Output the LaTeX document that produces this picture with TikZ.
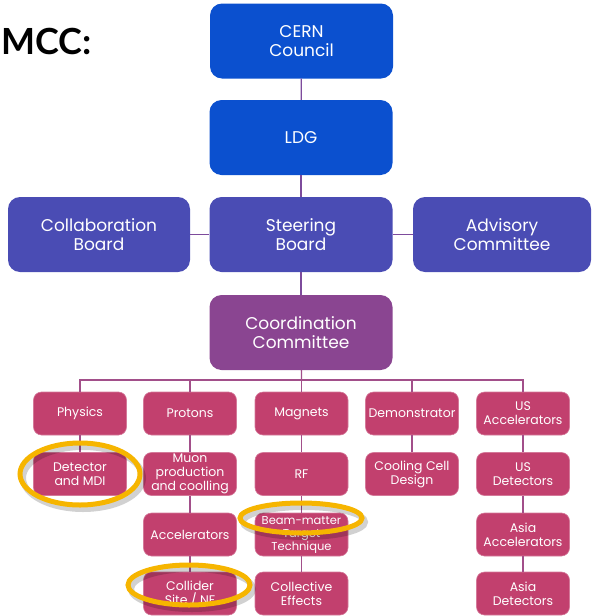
\documentclass[tikz,border=0pt]{standalone}
\usepackage{fontspec}
\setmainfont{Poppins}
\newfontfamily\titlefont{Lato}
\usetikzlibrary{positioning}
\definecolor{cernblue}{HTML}{0B50CF}
\definecolor{boardblue}{HTML}{4A4CB4}
\definecolor{coordpurple}{HTML}{8A4591}
\definecolor{groupred}{HTML}{C2406E}
\definecolor{ringgold}{HTML}{F6B500}
\definecolor{linepurple}{HTML}{7D4B9C}
\definecolor{linepink}{HTML}{A24F8A}

\begin{document}
\begin{tikzpicture}[x=1pt, y=-1pt,
    bigbox/.style={rectangle, rounded corners=12pt, minimum width=183pt, minimum height=75pt,
        inner sep=0pt, align=center, text=white, font=\fontsize{17}{19}\selectfont},
    groupbox/.style={rectangle, rounded corners=8pt, fill=groupred, draw=groupred!70!white, line width=0.6pt,
        minimum width=93pt, minimum height=43pt, inner sep=0pt, align=center, text=white,
        font=\fontsize{12.5}{14}\selectfont},
    link/.style={draw=linepurple, line width=1.3pt},
    buslink/.style={draw=linepink, line width=1.3pt},
    ring/.style={draw=ringgold, line width=5pt},
    ringshadow/.style={draw=black, opacity=0.18, line width=6pt}]
    \useasboundingbox (0,0) rectangle (592,616);

    \node[anchor=west, inner sep=0pt, font=\titlefont\bfseries\fontsize{36}{38}\selectfont] (title) at (1,41) {MCC:};

    % governance
    \node[bigbox, fill=cernblue] (cern) at (301.5,41) {CERN\\Council};
    \node[bigbox, fill=cernblue] (ldg) at (301,137.5) {LDG};
    \node[bigbox, fill=boardblue] (steering) at (301,234.5) {Steering\\Board};
    \node[bigbox, fill=boardblue, minimum width=182pt] (collab) at (99,234.5) {Collaboration\\Board};
    \node[bigbox, fill=boardblue, minimum width=178pt] (advisory) at (502,234.5) {Advisory\\Committee};
    \node[bigbox, fill=coordpurple] (coord) at (301,332.5) {Coordination\\Committee};

    \path[link]
    (cern) edge (ldg)
    (ldg) edge (steering)
    (collab) edge (steering)
    (steering) edge (advisory)
    (steering) edge (coord)
    ;

    % working groups
    \node[groupbox] (physics) at (80,413.5) {Physics};
    \node[groupbox] (protons) at (190,413.5) {Protons};
    \node[groupbox] (magnets) at (301.5,413.5) {Magnets};
    \node[groupbox] (demo) at (412,413.5) {Demonstrator};
    \node[groupbox] (usacc) at (523,413.5) {US\\Accelerators};

    \node[groupbox] (detector) at (80,474) {Detector\\and MDI};
    \node[groupbox] (muon) at (190,474) {Muon\\production\\and coolling};
    \node[groupbox] (rf) at (301.5,474) {RF};
    \node[groupbox] (cooling) at (412,474) {Cooling Cell\\Design};
    \node[groupbox] (usdet) at (523,474) {US\\Detectors};

    \node[groupbox] (accel) at (190,534.5) {Accelerators};
    \node[groupbox, font=\fontsize{11.5}{13}\selectfont] (beam) at (301.5,534.5) {Beam-matter\\Target\\Technique};
    \node[groupbox] (asiaacc) at (523,534.5) {Asia\\Accelerators};

    \node[groupbox] (collider) at (190,593.5) {Collider\\Site / NF};
    \node[groupbox] (collective) at (301.5,593.5) {Collective\\Effects};
    \node[groupbox] (asiadet) at (523,593.5) {Asia\\Detectors};

    \coordinate (bus) at (301.5,380);
    \draw[buslink] (coord) -- (bus);
    \draw[buslink] (physics.north) |- (bus) -| (usacc.north);
    \draw[buslink] (protons.north) |- (bus);
    \draw[buslink] (demo.north) |- (bus);
    \draw[buslink] (bus) -- (magnets);

    \path[buslink]
    (physics) edge (detector)
    (protons) edge (muon)
    (muon) edge (accel)
    (accel) edge (collider)
    (magnets) edge (rf)
    (rf) edge (beam)
    (beam) edge (collective)
    (demo) edge (cooling)
    (usacc) edge (usdet)
    (usdet) edge (asiaacc)
    (asiaacc) edge (asiadet)
    ;

    % highlights
    \draw[ringshadow] (83,478) ellipse [x radius=60pt, y radius=31pt];
    \draw[ringshadow] (304,522) ellipse [x radius=61pt, y radius=15pt];
    \draw[ringshadow] (192,589) ellipse [x radius=61pt, y radius=20pt];
    \draw[ring] (80,474) ellipse [x radius=60pt, y radius=31pt];
    \draw[ring] (301,518) ellipse [x radius=61pt, y radius=15pt];
    \draw[ring] (189,585) ellipse [x radius=61pt, y radius=20pt];
\end{tikzpicture}
\end{document}
